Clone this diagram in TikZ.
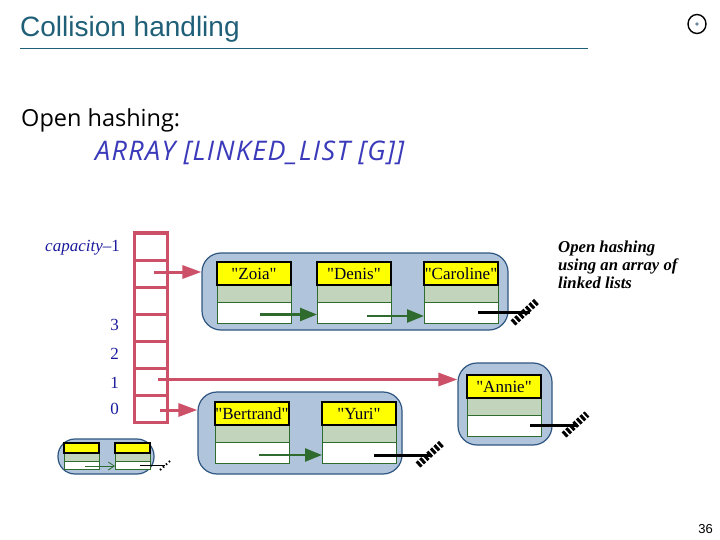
\documentclass[tikz,border=0pt]{standalone}
\usepackage{fontspec}
\setmainfont{Liberation Serif}
\newfontfamily\cellfont{Liberation Serif}
\newfontfamily\headfont{Liberation Sans}
\newfontfamily\handfont{Open Sans}
\newfontfamily\handwide[LetterSpace=4.8]{Open Sans}
\usetikzlibrary{arrows.meta}
\definecolor{teal}{HTML}{1F5F78}
\definecolor{blobfill}{HTML}{B0C4DC}
\definecolor{blobline}{HTML}{2F5680}
\definecolor{arrayred}{HTML}{CC5068}
\definecolor{listgreen}{HTML}{2F6B2F}
\definecolor{midgreen}{HTML}{C2D4BC}
\definecolor{keyyellow}{HTML}{FFFF00}
\definecolor{inkblue}{HTML}{3A3ABA}
\definecolor{indexblue}{HTML}{1A1A9C}
\tikzset{
  arraybox/.style={draw=arrayred,line width=3,minimum width=33,minimum height=27,inner sep=0,outer sep=0},
  blobbox/.style={draw=blobline,line width=1.2,fill=blobfill,rounded corners=19,inner sep=0},
  keybox/.style={draw=black,line width=1.5,fill=keyyellow,anchor=north west,minimum width=74,minimum height=23,inner sep=0,outer sep=0,text=black!85!blue,font=\cellfont\fontsize{17}{17}\selectfont},
  midbox/.style={draw=listgreen,line width=1,fill=midgreen,anchor=north west,minimum width=74,minimum height=17,inner sep=0,outer sep=0},
  ptrbox/.style={draw=listgreen,line width=1,fill=white,anchor=north west,minimum width=74,minimum height=21,inner sep=0,outer sep=0},
  redarrow/.style={draw=arrayred,line width=3,-{Stealth[inset=0pt,length=19pt,width=13pt]}},
  greenarrow/.style={draw=listgreen,line width=2.5,-{Stealth[inset=0pt,length=17pt,width=13pt]}},
  blackline/.style={draw=black,line width=3},
  nullend/.style={draw=black,line width=7,dash pattern=on 3pt off 1.8pt},
  indexlabel/.style={text=indexblue,anchor=east,inner sep=0,font=\fontsize{17}{17}\selectfont},
}
\newcommand{\listcell}[4]{%
  \node[keybox] (#1) at (#2,#3) {#4};
  \node[midbox] (#1m) at (#1.south west) {};
  \node[ptrbox] (#1p) at (#1m.south west) {};
  \node[keybox] at (#2,#3) {#4};
}
\begin{document}
\begin{tikzpicture}[x=1pt,y=-1pt]
  \useasboundingbox (0,0) rectangle (720,540);
  \fill[white] (0,0) rectangle (720,540);
  \node[anchor=base west,inner sep=0,text=teal,font=\headfont\fontsize{28}{28}\selectfont] (title) at (20,37) {Collision handling};
  \draw[teal,line width=0.8] (20,48) -- (588,48);
  \draw[black,line width=1.4] (697,24) ellipse (9 and 9.5);
  \fill[blobline!70] (697,24) circle (1.8);
  \node[anchor=base west,inner sep=0,font=\handfont\fontsize{23.5}{24}\selectfont] (openhash) at (21,127) {Open hashing:};
  \node[anchor=base west,inner sep=0,text=inkblue,font=\handwide\itshape\fontsize{27}{27}\selectfont] (arraytype) at (95,161) {ARRAY [LINKED\_LIST [G]]};

  \foreach \i in {0,...,6}
    \node[arraybox] (slot\i) at (151,{408.5-27*\i}) {};

  \node[indexlabel] (capacity) at (120,248) {\textit{capacity}--1};
  \node[indexlabel] (three) at (119,325) {3};
  \node[indexlabel] (two) at (119,354) {2};
  \node[indexlabel] (one) at (119,383) {1};
  \node[indexlabel] (zero) at (119,409) {0};

  \node[blobbox,minimum width=306,minimum height=77] (blobtop) at (355,291.5) {};
  \node[blobbox,minimum width=204,minimum height=82] (blobmid) at (300,433) {};
  \node[blobbox,minimum width=94,minimum height=82] (blobannie) at (505,404) {};
  \node[blobbox,rounded corners=17,minimum width=96,minimum height=35] (blobsmall) at (106,456.5) {};

  \listcell{zoia}{217}{262}{"Zoia"}
  \listcell{denis}{317}{262}{"Denis"}
  \listcell{caroline}{424}{262}{"Caroline"}
  \listcell{bertrand}{215}{402}{"Bertrand"}
  \listcell{yuri}{322}{402}{"Yuri"}
  \listcell{annie}{467}{375}{"Annie"}

  \foreach \x/\n in {64/a,115/b} {
    \node[midbox,minimum width=35,minimum height=8,anchor=north west] (smallm\n) at (\x,453) {};
    \node[ptrbox,line width=1,minimum width=35,minimum height=8] (smallp\n) at (smallm\n.south west) {};
    \node[keybox,minimum width=35,minimum height=10] (small\n) at (\x,443) {};
  }

  \coordinate (slotsix) at (154,272);
  \coordinate (slotone) at (158,379.5);
  \coordinate (slotzero) at (160,410);
  \draw[redarrow] (slotsix) -- (slotsix -| blobtop.west);
  \draw[redarrow] (slotone) -- (slotone -| blobannie.west);
  \draw[redarrow] (slotzero) -- (slotzero -| blobmid.west);

  \coordinate (zoiaout) at (260,314.5);
  \coordinate (denisout) at (367,316);
  \coordinate (bertrandout) at (259,455);
  \draw[greenarrow] (zoiaout) -- (zoiaout -| denisp.west);
  \draw[greenarrow] (denisout) -- (denisout -| carolinep.west);
  \draw[greenarrow] (bertrandout) -- (bertrandout -| yurip.west);
  \coordinate (smallout) at (85,466);
  \draw[listgreen,line width=0.8,-{Straight Barb[length=6pt,width=8pt]}] (smallout) -- (smallout -| smallpb.west);

  \coordinate (carolineout) at (478,312);
  \coordinate (carolineend) at (530,312);
  \coordinate (annieout) at (530,425);
  \coordinate (annieend) at (578,425);
  \coordinate (yuriout) at (374,455);
  \coordinate (yuriend) at (432,455);
  \coordinate (smallbout) at (140,465);
  \coordinate (smallbend) at (165,465);
  \draw[blackline] (carolineout) -- (carolineend);
  \draw[blackline] (annieout) -- (annieend);
  \draw[blackline] (yuriout) -- (yuriend);
  \draw[black,line width=0.8] (smallbout) -- (smallbend);

  \draw[nullend] (513,323) -- (537,301);
  \draw[nullend] (564,435) -- (587,414);
  \draw[nullend] (418,465) -- (442,443);
  \draw[black,line width=2,dash pattern=on 1.5pt off 2.5pt] (160,470) -- (170,461);

  \node[anchor=north west,inner sep=0,align=left,font=\bfseries\itshape\fontsize{16.7}{18}\selectfont] (caption) at (558,241) {Open hashing\\using an array of\\linked lists};
  \node[anchor=base east,inner sep=0,font=\headfont\fontsize{13}{13}\selectfont] (pageno) at (713,533) {36};
\end{tikzpicture}
\end{document}
